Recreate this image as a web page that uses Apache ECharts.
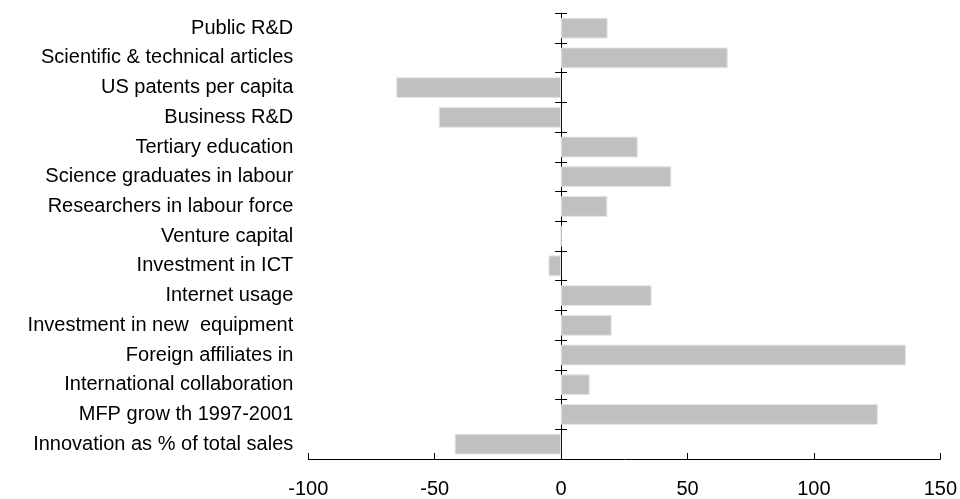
<!DOCTYPE html>
<html>
<head>
<meta charset="utf-8">
<script src="https://cdn.jsdelivr.net/npm/echarts@6/dist/echarts.min.js"></script>
<style>
html,body{margin:0;padding:0;background:#fff;}
#chart{width:960px;height:499px;}
</style>
</head>
<body>
<div id="chart"></div>
<script>
const categories = [
  "Public R&D",
  "Scientific & technical articles",
  "US patents per capita",
  "Business R&D",
  "Tertiary education",
  "Science graduates in labour",
  "Researchers in labour force",
  "Venture capital",
  "Investment in ICT",
  "Internet usage",
  "Investment in new  equipment",
  "Foreign affiliates in",
  "International collaboration",
  "MFP grow th 1997-2001",
  "Innovation as % of total sales"
];
const values = [18.4, 65.9, -65.2, -48.4, 30.3, 43.6, 18.3, 0, -5, 35.8, 20, 136.4, 11.3, 125.3, -42.1];
const xTicks = [-100, -50, 0, 50, 100, 150];

const chart = echarts.init(document.getElementById('chart'), null, {renderer: 'canvas'});
const font = 'Liberation Sans, Arial, sans-serif';
const catAxisBase = {
  type: 'category',
  data: categories,
  inverse: true,
  boundaryGap: true,
  splitLine: {show: false}
};
chart.setOption({
  animation: false,
  backgroundColor: '#ffffff',
  grid: {left: 308.3, right: 19, top: 13.3, bottom: 39, containLabel: false},
  xAxis: {
    type: 'value',
    min: xTicks[0],
    max: xTicks[xTicks.length - 1],
    interval: 50,
    axisLine: {show: true, onZero: false, lineStyle: {color: '#000', width: 1}},
    axisTick: {show: true, inside: true, length: 6, lineStyle: {color: '#000', width: 1}},
    axisLabel: {show: true, margin: 20, color: '#000', fontSize: 20, fontFamily: font},
    splitLine: {show: false}
  },
  yAxis: [
    Object.assign({}, catAxisBase, {
      position: 'left',
      axisLine: {show: false, onZero: false},
      axisTick: {show: false},
      axisLabel: {show: true, margin: 15, color: '#000', fontSize: 20, fontFamily: font, padding: [0, 0, 5, 0]}
    }),
    Object.assign({}, catAxisBase, {
      position: 'left',
      axisLine: {show: true, onZero: true, onZeroAxisIndex: 0, lineStyle: {color: '#000', width: 1}},
      axisTick: {show: true, inside: false, length: 6, lineStyle: {color: '#000', width: 1}},
      axisLabel: {show: false}
    }),
    Object.assign({}, catAxisBase, {
      position: 'left',
      axisLine: {show: false, onZero: true, onZeroAxisIndex: 0},
      axisTick: {show: true, inside: true, length: 6, lineStyle: {color: '#000', width: 1}},
      axisLabel: {show: false}
    })
  ],
  series: [{
    type: 'bar',
    yAxisIndex: 0,
    data: values,
    barCategoryGap: '30%',
    itemStyle: {color: '#c0c0c0', borderColor: '#e4e4e4', borderWidth: 1},
    z: 1
  }]
});
</script>
</body>
</html>
